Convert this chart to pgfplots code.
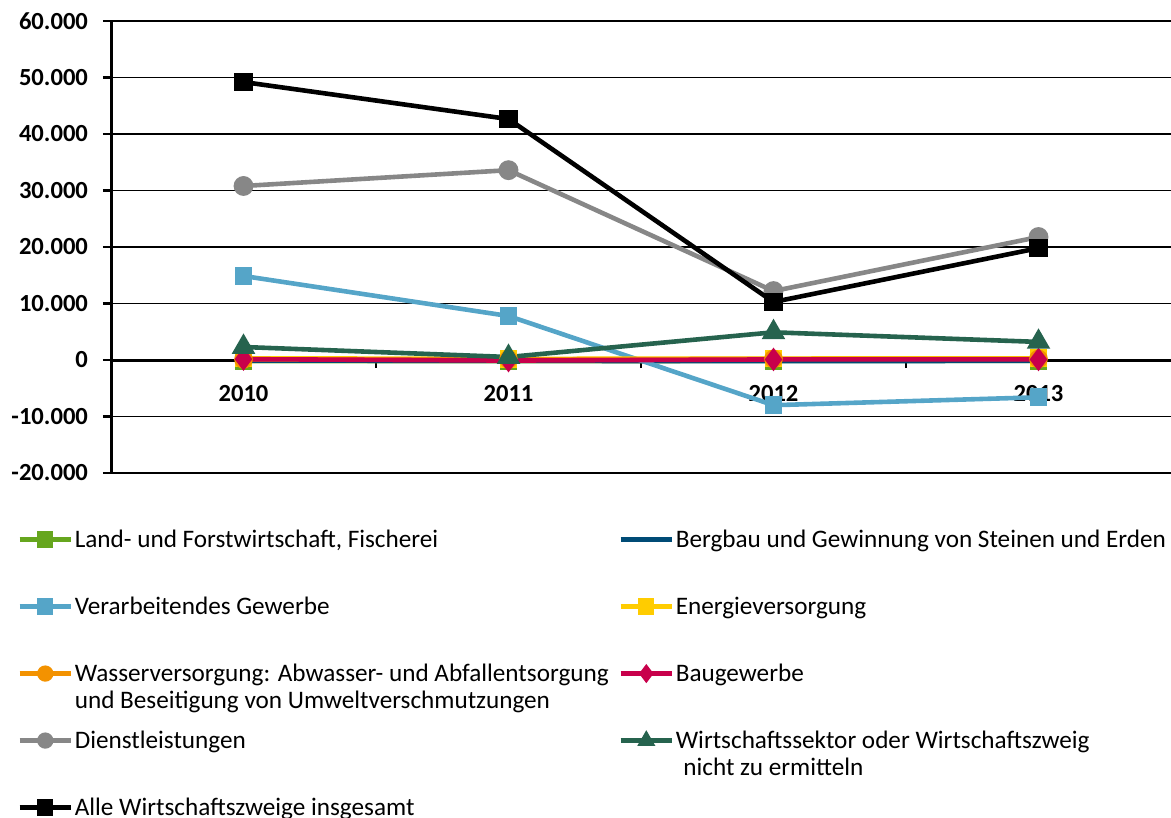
\documentclass[border=0pt]{standalone}
\usepackage{pgfplots}
\pgfplotsset{compat=1.18}
\usepackage{fontspec}
\setmainfont{Carlito}
\definecolor{cLand}{HTML}{66A61E}
\definecolor{cBerg}{HTML}{004B76}
\definecolor{cVer}{HTML}{55A5C8}
\definecolor{cEn}{HTML}{FFCC00}
\definecolor{cWas}{HTML}{F39200}
\definecolor{cBau}{HTML}{C8004B}
\definecolor{cDie}{HTML}{878787}
\definecolor{cWir}{HTML}{26634E}
\newcommand{\lc}[1]{\parbox[t]{271pt}{#1}}
\begin{document}
\begin{tikzpicture}
\useasboundingbox (0,0) rectangle (585.5pt,409pt);
\begin{axis}[
  at={(55.5pt,172.5pt)}, anchor=south west,
  scale only axis, width=530pt, height=226pt,
  xmin=-0.5, xmax=3.5, ymin=-20000, ymax=60000,
  scaled y ticks=false,
  axis x line=middle, axis y line=left,
  axis line style={-, line width=1.5pt, black},
  xtick={0.5,1.5,2.5}, xticklabels={},
  extra x ticks={0,1,2,3}, extra x tick labels={2010,2011,2012,2013},
  extra x tick style={major tick length=0pt, grid=none},
  ytick={-20000,-10000,0,10000,20000,30000,40000,50000,60000},
  yticklabels={-20.000,-10.000,0,10.000,20.000,30.000,40.000,50.000,60.000},
  tick align=outside, major tick length=4pt,
  tick style={black, line width=1.2pt},
  ymajorgrids, major grid style={black, line width=0.75pt},
  tick label style={font=\fontsize{12.3}{14}\selectfont\bfseries},
  yticklabel style={xshift=-4pt},
  xticklabel style={yshift=-9pt},
  clip=false,
  every axis plot/.append style={line width=2.3pt},
  legend columns=2,
  legend style={at={(axis description cs:-0.0887,-0.0745)}, anchor=north west,
    draw=none, fill=none, inner sep=0pt, column sep=0pt, row sep=0pt,
    font=\fontsize{12.6}{13.5}\selectfont,
    nodes={inner xsep=0.8pt, inner ysep=0pt, text height=20.25pt, text depth=13.25pt},
    cells={anchor=base west}},
  legend image code/.code={\draw[mark repeat=2,mark phase=2,yshift=4pt,mark size=2.9pt] plot coordinates {(0cm,0cm) (0.45cm,0cm) (0.9cm,0cm)};},
]
\addplot[color=cLand, mark=square*, mark size=3.3pt] coordinates {(0,-200) (1,-200) (2,-150) (3,-150)};
\addlegendentry{\lc{Land- und Forstwirtschaft, Fischerei}}
\addplot[color=cBerg, mark=none] coordinates {(0,-100) (1,-150) (2,-200) (3,-150)};
\addlegendentry{Bergbau und Gewinnung von Steinen und Erden}
\addplot[color=cVer, mark=square*, mark size=3.3pt] coordinates {(0,14870) (1,7790) (2,-8000) (3,-6600)};
\addlegendentry{\lc{Verarbeitendes Gewerbe}}
\addplot[color=cEn, mark=square*, mark size=3.3pt] coordinates {(0,300) (1,200) (2,250) (3,300)};
\addlegendentry{Energieversorgung}
\addplot[color=cWas, mark=*, mark size=3.5pt] coordinates {(0,100) (1,100) (2,200) (3,200)};
\addlegendentry{\lc{Wasserversorgung: Abwasser- und Abfallentsorgung\\und Beseitigung von Umweltverschmutzungen}}
\addplot[color=cBau, mark=diamond*, mark size=4pt] coordinates {(0,150) (1,-100) (2,100) (3,100)};
\addlegendentry{Baugewerbe}
\addplot[color=cDie, mark=*, mark size=3.8pt] coordinates {(0,30800) (1,33600) (2,12200) (3,21770)};
\addlegendentry{\lc{Dienstleistungen}}
\addplot[color=cWir, mark=triangle*, mark size=4.5pt] coordinates {(0,2300) (1,530) (2,4900) (3,3200)};
\addlegendentry{\parbox[t]{245pt}{Wirtschaftssektor oder Wirtschaftszweig\\\hspace*{0.3em}nicht zu ermitteln}}
\addplot[color=black, mark=square*, mark size=3.5pt] coordinates {(0,49200) (1,42650) (2,10270) (3,19800)};
\addlegendentry{\lc{Alle Wirtschaftszweige insgesamt}}
\end{axis}
\end{tikzpicture}
\end{document}
